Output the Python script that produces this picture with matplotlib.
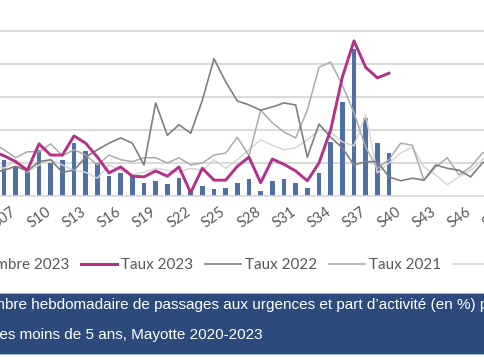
import matplotlib
matplotlib.use("Agg")
import matplotlib.pyplot as plt
from matplotlib.patches import Rectangle, Patch
from matplotlib.lines import Line2D

weeks = list(range(1, 53))
week_labels = [f"S{w:02d}" for w in weeks]

nombre_2023 = [20, 24, 22, 18, 25, 21, 22, 18, 15, 28, 20, 22, 32, 27, 20, 12, 14, 12, 8, 9,
               7, 11, 3, 6, 4, 5, 8, 10, 3, 9, 10, 8, 5, 14, 33, 57, 89, 47, 32, 26]
taux_2023 = [6.5, 7.0, 6.0, 7.5, 6.8, 6.8, 6.1, 5.2, 3.9, 7.9, 6.2, 6.2, 9.1, 8.0, 5.9, 3.5, 4.4, 3.0, 2.9, 3.8,
             3.0, 4.4, 0.5, 4.2, 2.4, 2.4, 4.5, 5.9, 2.0, 5.6, 4.8, 3.8, 2.3, 5.0, 10.0, 18.0, 23.5, 19.5, 17.9, 18.6]
taux_2022 = [3.9, 4.7, 3.6, 4.2, 3.2, 3.6, 3.9, 4.5, 3.8, 5.2, 5.5, 3.6, 3.9, 5.9, 7.0, 8.0, 8.8, 8.0, 4.7, 14.1,
             9.2, 10.8, 9.5, 14.5, 20.8, 17.3, 14.4, 13.8, 13.0, 13.5, 14.1, 13.8, 5.9, 10.9, 8.9, 7.3, 4.7, 5.2, 5.2, 2.9,
             2.3, 2.7, 2.4, 4.7, 4.2, 3.9, 2.9, 5.0, 5.8, 4.2, 3.9, 3.6]
taux_2021 = [7.0, 6.2, 7.3, 6.7, 7.7, 8.0, 7.0, 5.8, 6.7, 6.7, 7.9, 6.1, 7.0, 6.2, 4.7, 6.2, 5.5, 5.2, 5.8, 5.8,
             5.0, 5.8, 4.7, 5.0, 6.2, 6.5, 8.9, 6.1, 13.0, 11.1, 9.7, 8.8, 13.0, 19.5, 20.3, 16.8, 12.6, 7.4, 4.2, 5.5,
             8.0, 7.7, 2.4, 4.4, 5.8, 3.2, 4.4, 6.5, 7.0, 5.5, 4.7, 5.8]
taux_2020 = [4.2, 4.7, 3.9, 5.2, 4.5, 4.7, 4.2, 5.5, 3.6, 4.7, 5.5, 4.7, 3.9, 3.6, 2.7, 4.7, 3.9, 3.2, 3.6, 4.2,
             3.9, 3.6, 4.2, 3.9, 5.5, 4.2, 5.5, 7.0, 8.5, 7.7, 7.0, 7.3, 8.5, 10.0, 9.7, 8.2, 7.6, 12.3, 3.5, 5.0,
             6.5, 7.4, 4.4, 3.2, 1.7, 2.9, 3.9, 5.5, 7.0, 4.7, 4.2, 4.7]

W, H = 485, 360
fig = plt.figure(figsize=(W / 100, H / 100), dpi=100)

# axes geometry in pixels (chart is cropped on both sides)
x_left, x_right = -71.8, 534.8
y_top, y_bot = -2, 196
ax = fig.add_axes([x_left / W, 1 - y_bot / H, (x_right - x_left) / W, (y_bot - y_top) / H])
ax2 = ax.twinx()

ax.bar(weeks[:len(nombre_2023)], nombre_2023, width=0.38, color="#4F6FA5", zorder=2)
ax.set_ylim(0, 120)
ax.set_yticks(range(0, 121, 20))
ax.yaxis.grid(True, color="#D9D9D9", linewidth=1.4, zorder=0)
ax.set_axisbelow(True)
ax.set_xlim(0.5, 52.5)
ax.set_xticks(weeks[::3])
ax.set_xticklabels(week_labels[::3], rotation=35, ha="center", va="top",
                   fontsize=10.5, color="#595959", family="Lato")
ax.tick_params(axis="x", length=0, pad=6)
ax.tick_params(axis="y", length=0, labelleft=False)
for s in ["top", "left", "right"]:
    ax.spines[s].set_visible(False)
ax.spines["bottom"].set_color("#D9D9D9")
ax.spines["bottom"].set_linewidth(1.2)

ax2.plot(weeks, taux_2020, color="#D6D6D6", linewidth=1.1, zorder=2)
ax2.plot(weeks, taux_2021, color="#ABABAB", linewidth=1.1, zorder=3)
ax2.plot(weeks, taux_2022, color="#7F7F7F", linewidth=1.2, zorder=4)
ax2.plot(weeks[:len(taux_2023)], taux_2023, color="#B4318A", linewidth=2.1, zorder=5)
ax2.set_ylim(0, 30)
ax2.tick_params(length=0, labelright=False)
for s in ax2.spines.values():
    s.set_visible(False)

handles = [Patch(color="#4F6FA5"),
           Line2D([], [], color="#B4318A", linewidth=2.2),
           Line2D([], [], color="#7F7F7F", linewidth=1.2),
           Line2D([], [], color="#ABABAB", linewidth=1.2),
           Line2D([], [], color="#D6D6D6", linewidth=1.2)]
labels = ["Nombre 2023", "Taux 2023", "Taux 2022", "Taux 2021", "Taux 2020"]
fig.legend(handles, labels, loc="center", bbox_to_anchor=(250 / W, 1 - 265 / H), ncol=5,
           frameon=False, prop={"family": "Lato", "size": 11}, labelcolor="#595959",
           handlelength=2.35, handletextpad=0.3, columnspacing=0.75)

# caption box
fig.patches.append(Rectangle((-0.01, 1 - 354 / H), 1.02, (354 - 293) / H, transform=fig.transFigure,
                             facecolor="#2C4A7C", edgecolor="#9FB2D3", linewidth=0.8))
fig.text(-27 / W, 1 - 305 / H, "Nombre hebdomadaire de passages aux urgences et part d’activité (en %) pour",
         color="white", fontsize=11, family="Liberation Sans", va="center", ha="left")
fig.text(-4 / W, 1 - 335 / H, "les moins de 5 ans, Mayotte 2020-2023",
         color="white", fontsize=11, family="Liberation Sans", va="center", ha="left")

fig.savefig("out.png", dpi=100)
